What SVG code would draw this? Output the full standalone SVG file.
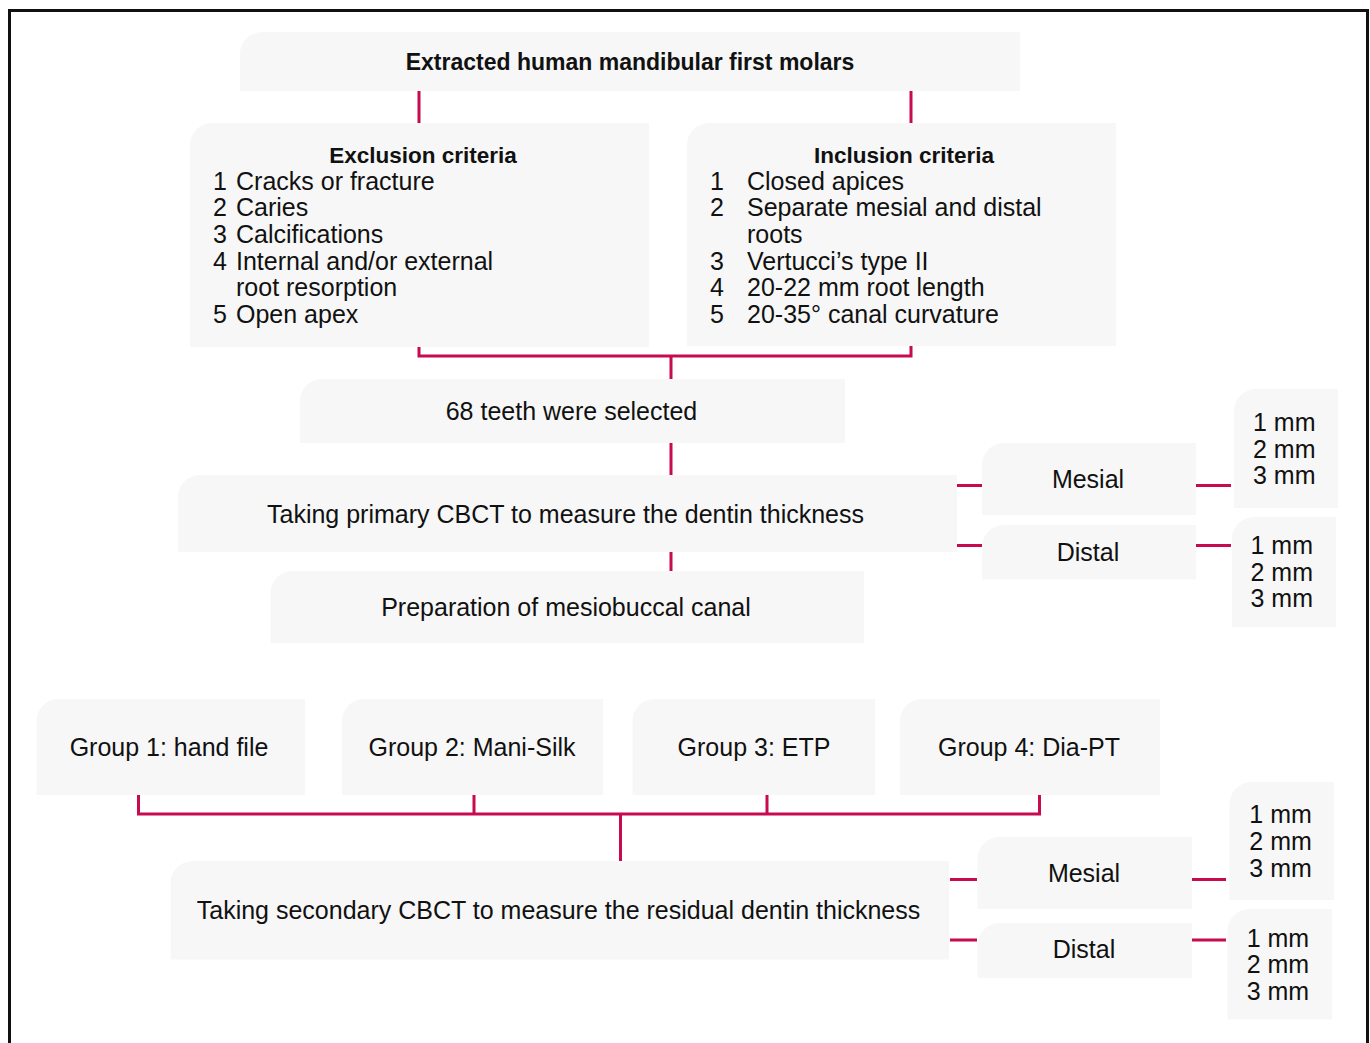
<svg xmlns="http://www.w3.org/2000/svg" width="1370" height="1043" viewBox="0 0 1370 1043">
<style>
.box{fill:#f7f7f7;stroke:none}
.t{font-family:"Liberation Sans",Arial,sans-serif;font-size:25px;fill:#111}
.c{text-anchor:middle}
.b{font-weight:bold;font-size:22.5px}
.ln{fill:none;stroke:#c80a50;stroke-width:3}
</style>
<rect x="0" y="0" width="1370" height="1043" fill="#fff"/>
<rect x="9.5" y="10.5" width="1358" height="1100" fill="none" stroke="#111" stroke-width="3"/>

<g id="connectors">
<path class="ln" d="M419,91 V123 M911,91 V123"/>
<path class="ln" d="M419,347 V356 H911 V346 M671,356 V379"/>
<path class="ln" d="M671,443 V475 M671,552 V571"/>
<path class="ln" d="M957,485.5 H982 M957,545.5 H982 M1196,485.5 H1231 M1196,545.5 H1231"/>
<path class="ln" d="M138.5,795 V814 H1039.5 V795 M474,795 V814 M767,795 V814 M620.5,814 V861"/>
<path class="ln" d="M950,879.5 H977 M950,940 H977 M1192,879.5 H1226 M1192,940 H1226"/>
</g>

<g id="start">
<path class="box" d="M240,54 A22,22 0 0 1 262,32 H1020 V91 H240 Z"/>
<text class="t c b" x="630" y="70" font-size="23" style="font-size:23px">Extracted human mandibular first molars</text>
</g>

<g id="exclusion">
<path class="box" d="M190,145 A22,22 0 0 1 212,123 H649 V347 H190 Z"/>
<text class="t c b" x="423" y="163.3">Exclusion criteria</text>
<text class="t">
<tspan x="213" y="189.5">1</tspan><tspan x="236" y="189.5">Cracks or fracture</tspan>
<tspan x="213" y="216.2">2</tspan><tspan x="236" y="216.2">Caries</tspan>
<tspan x="213" y="242.9">3</tspan><tspan x="236" y="242.9">Calcifications</tspan>
<tspan x="213" y="269.6">4</tspan><tspan x="236" y="269.6">Internal and/or external</tspan>
<tspan x="236" y="296.3">root resorption</tspan>
<tspan x="213" y="323">5</tspan><tspan x="236" y="323">Open apex</tspan>
</text>
</g>

<g id="inclusion">
<path class="box" d="M687,145 A22,22 0 0 1 709,123 H1116 V346 H687 Z"/>
<text class="t c b" x="904" y="163.3">Inclusion criteria</text>
<text class="t">
<tspan x="710" y="189.5">1</tspan><tspan x="747" y="189.5">Closed apices</tspan>
<tspan x="710" y="216.2">2</tspan><tspan x="747" y="216.2">Separate mesial and distal</tspan>
<tspan x="747" y="242.9">roots</tspan>
<tspan x="710" y="269.6">3</tspan><tspan x="747" y="269.6">Vertucci’s type II</tspan>
<tspan x="710" y="296.3">4</tspan><tspan x="747" y="296.3">20-22 mm root length</tspan>
<tspan x="710" y="323">5</tspan><tspan x="747" y="323">20-35° canal curvature</tspan>
</text>
</g>

<g id="selected">
<path class="box" d="M300,401 A22,22 0 0 1 322,379 H845 V443 H300 Z"/>
<text class="t c" x="571.5" y="420">68 teeth were selected</text>
</g>

<g id="primary-cbct">
<path class="box" d="M178,497 A22,22 0 0 1 200,475 H957 V552 H178 Z"/>
<text class="t c" x="565.5" y="522.7">Taking primary CBCT to measure the dentin thickness</text>
</g>

<g id="mesial-1">
<path class="box" d="M982,465 A22,22 0 0 1 1004,443 H1196 V515 H982 Z"/>
<text class="t c" x="1088" y="488.3">Mesial</text>
</g>
<g id="distal-1">
<path class="box" d="M982,547 A22,22 0 0 1 1004,525 H1196 V579.5 H982 Z"/>
<text class="t c" x="1088" y="560.7">Distal</text>
</g>
<g id="mm-1">
<path class="box" d="M1234,411 A22,22 0 0 1 1256,389 H1338 V508 H1234 Z"/>
<text class="t"><tspan x="1253" y="431">1 mm</tspan><tspan x="1253" y="457.7">2 mm</tspan><tspan x="1253" y="484.4">3 mm</tspan></text>
</g>
<g id="mm-2">
<path class="box" d="M1232,539 A22,22 0 0 1 1254,517 H1336 V627 H1232 Z"/>
<text class="t"><tspan x="1250.5" y="554">1 mm</tspan><tspan x="1250.5" y="580.7">2 mm</tspan><tspan x="1250.5" y="607.4">3 mm</tspan></text>
</g>

<g id="preparation">
<path class="box" d="M270.5,593 A22,22 0 0 1 292.5,571 H864 V643 H270.5 Z"/>
<text class="t c" x="566" y="616">Preparation of mesiobuccal canal</text>
</g>

<g id="group-1">
<path class="box" d="M36.5,721 A22,22 0 0 1 58.5,699 H305 V795 H36.5 Z"/>
<text class="t c" x="169" y="756">Group 1: hand file</text>
</g>
<g id="group-2">
<path class="box" d="M342,721 A22,22 0 0 1 364,699 H603 V795 H342 Z"/>
<text class="t c" x="472" y="756">Group 2: Mani-Silk</text>
</g>
<g id="group-3">
<path class="box" d="M632.5,721 A22,22 0 0 1 654.5,699 H875 V795 H632.5 Z"/>
<text class="t c" x="754" y="756">Group 3: ETP</text>
</g>
<g id="group-4">
<path class="box" d="M900,721 A22,22 0 0 1 922,699 H1160 V795 H900 Z"/>
<text class="t c" x="1029" y="756">Group 4: Dia-PT</text>
</g>

<g id="secondary-cbct">
<path class="box" d="M170.5,883 A22,22 0 0 1 192.5,861 H949 V959.5 H170.5 Z"/>
<text class="t c" x="558.5" y="919.3">Taking secondary CBCT to measure the residual dentin thickness</text>
</g>

<g id="mesial-2">
<path class="box" d="M977.5,859 A22,22 0 0 1 999.5,837 H1192 V909 H977.5 Z"/>
<text class="t c" x="1084" y="881.7">Mesial</text>
</g>
<g id="distal-2">
<path class="box" d="M977.5,945 A22,22 0 0 1 999.5,923 H1192 V978 H977.5 Z"/>
<text class="t c" x="1084" y="958.3">Distal</text>
</g>
<g id="mm-3">
<path class="box" d="M1229.5,804 A22,22 0 0 1 1251.5,782 H1334 V900 H1229.5 Z"/>
<text class="t"><tspan x="1249.3" y="823.3">1 mm</tspan><tspan x="1249.3" y="850">2 mm</tspan><tspan x="1249.3" y="876.7">3 mm</tspan></text>
</g>
<g id="mm-4">
<path class="box" d="M1227.5,931 A22,22 0 0 1 1249.5,909 H1332 V1019.5 H1227.5 Z"/>
<text class="t"><tspan x="1246.7" y="946.7">1 mm</tspan><tspan x="1246.7" y="973.3">2 mm</tspan><tspan x="1246.7" y="1000">3 mm</tspan></text>
</g>
</svg>
